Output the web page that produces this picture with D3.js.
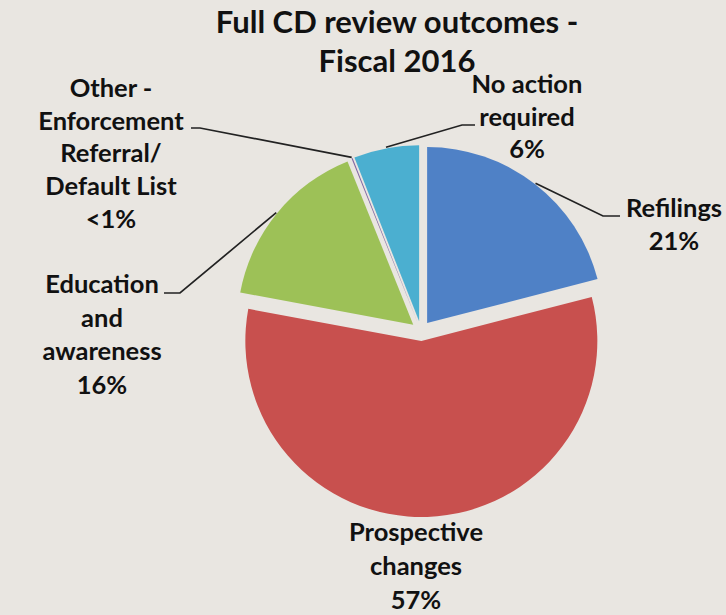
<!DOCTYPE html>
<html>
<head>
<meta charset="utf-8">
<script src="https://cdn.jsdelivr.net/npm/d3@7"></script>
<style>
  html, body { margin: 0; padding: 0; background: #e9e6e1; }
  svg { display: block; }
  text { font-family: Lato, "Open Sans", sans-serif; font-weight: 700; fill: #111; }
</style>
</head>
<body>
<script>
// Full CD review outcomes, fiscal 2016 (share of reviews, %)
const categories = [
  "Refilings",
  "Prospective changes",
  "Education and awareness",
  "Other - Enforcement Referral/ Default List",
  "No action required"
];
const labelLines = [
  ["Refilings"],
  ["Prospective", "changes"],
  ["Education", "and", "awareness"],
  ["Other -", "Enforcement", "Referral/", "Default List"],
  ["No action", "required"]
];
const shares = [21, 57, 16, 0.1, 6];
const colors = ["#4f81c6", "#c8504e", "#9dc157", "#8064a2", "#4bafd0"];
const titleLines = ["Full CD review outcomes -", "Fiscal 2016"];

const W = 726, H = 615;
const svg = d3.select("body").append("svg").attr("width", W).attr("height", H);
svg.append("rect").attr("width", W).attr("height", H).attr("fill", "#e9e6e1");

// Title
svg.append("text")
  .attr("x", 397).attr("y", 33)
  .attr("text-anchor", "middle")
  .style("font-size", "31px")
  .selectAll("tspan").data(titleLines).join("tspan")
  .attr("x", 397).attr("dy", (d, i) => i === 0 ? 0 : 39)
  .text(d => d);

// Pie geometry
const cx = 421, cy = 331, R = 176, explode = 10;
const data = categories.map((c, i) => ({ name: c, lines: labelLines[i], value: shares[i], color: colors[i] }));
const pie = d3.pie().sort(null).value(d => d.value).startAngle(0).endAngle(2 * Math.PI);
const arcs = pie(data);
const arc = d3.arc().innerRadius(0).outerRadius(R);
const mid = a => (a.startAngle + a.endAngle) / 2;
const shift = a => [Math.sin(mid(a)) * explode, -Math.cos(mid(a)) * explode];

const g = svg.append("g").attr("transform", `translate(${cx},${cy})`);
g.selectAll("path.slice").data(arcs).join("path")
  .attr("class", "slice")
  .attr("d", arc)
  .attr("fill", d => d.data.color)
  .attr("transform", d => { const [x, y] = shift(d); return `translate(${x},${y})`; });

// Data labels: anchor of first line, line spacing, and leader-line elbow
const labelLayout = [
  { x: 674, y: 217, dy: 33, lead: [[620, 216], [603, 216]] },
  { x: 416, y: 541, dy: 34, lead: null },
  { x: 102, y: 293, dy: 33.5, lead: [[164, 293], [180, 293]] },
  { x: 111, y: 97, dy: 32.7, lead: [[191, 128], [200, 128]] },
  { x: 527, y: 93, dy: 32.5, lead: [[475, 125], [462, 125]] }
];
const fmtPct = v => v < 1 ? "<1%" : `${Math.round(v)}%`;

const line = d3.line();
arcs.forEach((a, i) => {
  const L = labelLayout[i];
  const lines = a.data.lines.concat([fmtPct(a.data.value)]);
  svg.append("text")
    .attr("text-anchor", "middle")
    .style("font-size", "25.5px")
    .selectAll("tspan").data(lines).join("tspan")
    .attr("x", L.x)
    .attr("y", (d, k) => L.y + k * L.dy)
    .text(d => d);

  if (L.lead) {
    const [sx, sy] = shift(a);
    const m = mid(a);
    const edge = [cx + sx + Math.sin(m) * (R + 1), cy + sy - Math.cos(m) * (R + 1)];
    svg.append("path")
      .attr("d", line([L.lead[0], L.lead[1], edge]))
      .attr("fill", "none")
      .attr("stroke", "#222")
      .attr("stroke-width", 1.7);
  }
});
</script>
</body>
</html>
